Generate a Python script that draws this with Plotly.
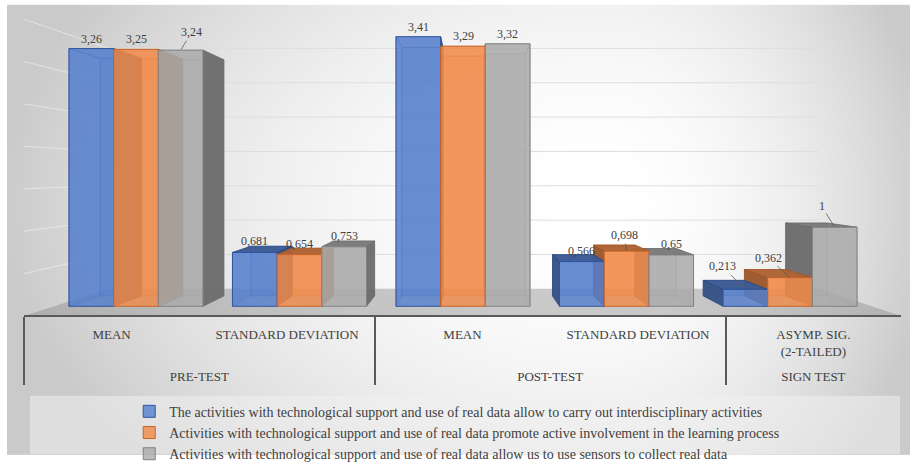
import numpy as np
import plotly.graph_objects as go

# ---------------- data ----------------
measures = ["MEAN", "STANDARD DEVIATION", "MEAN", "STANDARD DEVIATION", "ASYMP. SIG.<br>(2-TAILED)"]
phases = ["PRE-TEST", "PRE-TEST", "POST-TEST", "POST-TEST", "SIGN TEST"]

series_names = [
    "The activities with technological support and use of real data allow to carry out interdisciplinary activities",
    "Activities with technological support and use of real data promote active involvement in the learning process",
    "Activities with technological support and use of real data allow us to use sensors to collect real data",
]
interdisciplinary = [3.26, 0.681, 3.41, 0.566, 0.213]
involvement = [3.25, 0.654, 3.29, 0.698, 0.362]
sensors = [3.24, 0.753, 3.32, 0.65, 1]

wall_ticks = [0.5, 1.0, 1.5, 2.0, 2.5, 3.0, 3.5]

# ---------------- styling / geometry ----------------
W, H = 910, 470
FONT = "Liberation Serif"
TEXT = "#404040"

front_rgb = [(84, 126, 204), (240, 137, 72), (170, 170, 170)]
edge_rgb = [(47, 85, 160), (200, 100, 40), (130, 130, 130)]

# pixel layout of the front plane: group index -> px, value -> px
X0_PX, X_UNIT_PX = 136.0, 163.5
V0_PX, V_UNIT_PX = 315.0, 81.3
x_range = [-X0_PX / X_UNIT_PX, (W - X0_PX) / X_UNIT_PX]
y_range = [-(H - V0_PX) / V_UNIT_PX, V0_PX / V_UNIT_PX]


def px_x(X):
    return X0_PX + X * X_UNIT_PX


def px_y(V):
    return V0_PX - V * V_UNIT_PX


def dx(px):
    return (px - X0_PX) / X_UNIT_PX


def dv(py):
    return (V0_PX - py) / V_UNIT_PX


# perspective: vanishing point and depth scale factors
VPX, VPV = dx(470.0), dv(178.0)
S_FLOOR_FRONT = 1.073
S_BAR_BACK = 0.922
S_WALL = 0.869

BARGAP = 0.18
n_series = 3
bar_w = (1 - BARGAP) / n_series


def proj(X, V, s):
    return VPX + s * (X - VPX), VPV + s * (V - VPV)


def rgba(c, a):
    return f"rgba({c[0]},{c[1]},{c[2]},{a})"


def shade(c, f):
    return tuple(int(round(v * f)) for v in c)


fig = go.Figure()

# ---------------- background gradient ----------------
nx, ny = 60, 40
gx0, gx1, gy0, gy1 = 7, 910, 5, 468
cx = gx0 + (np.arange(nx) + 0.5) * (gx1 - gx0) / nx
cy = gy0 + (np.arange(ny) + 0.5) * (gy1 - gy0) / ny
PX, PY = np.meshgrid(cx, cy)
ddx = np.where(PX < 600, (PX - 600) / 600.0, (PX - 600) / 330.0)
ddy = (PY - 210) / 400.0
r2 = np.clip(ddx ** 2 + ddy ** 2, 0, 1)
shade_z = 255 - 53 * r2
fig.add_trace(go.Heatmap(
    x=dx(cx), y=dv(cy), z=shade_z, zmin=190, zmax=255, zsmooth="best",
    colorscale=[[0, "rgb(190,190,190)"], [1, "rgb(255,255,255)"]],
    showscale=False, hoverinfo="skip",
))

# ---------------- floor ----------------
fl = [proj(-0.5, 0, S_FLOOR_FRONT), proj(4.5, 0, S_FLOOR_FRONT),
      proj(4.5, 0, S_WALL), proj(-0.5, 0, S_WALL), proj(-0.5, 0, S_FLOOR_FRONT)]
fig.add_trace(go.Scatter(
    x=[p[0] for p in fl], y=[p[1] for p in fl], mode="lines", fill="toself",
    fillcolor="rgba(140,140,140,0.45)", line=dict(width=0), hoverinfo="skip", showlegend=False,
))

# ---------------- wall gridlines ----------------
gxs, gys, lxs, lys = [], [], [], []
for v in wall_ticks:
    a, b = proj(-0.5, v, S_WALL), proj(4.5, v, S_WALL)
    gxs += [a[0], b[0], None]
    gys += [a[1], b[1], None]
    c = proj(-0.5, v, S_FLOOR_FRONT)
    lxs += [c[0], a[0], None]
    lys += [c[1], a[1], None]
fig.add_trace(go.Scatter(x=gxs, y=gys, mode="lines", line=dict(color="rgb(222,222,222)", width=1),
                         hoverinfo="skip", showlegend=False))
fig.add_trace(go.Scatter(x=lxs, y=lys, mode="lines", line=dict(color="rgba(255,255,255,0.45)", width=1),
                         hoverinfo="skip", showlegend=False))

# ---------------- 3-D bar bodies (drawn back to front) ----------------
all_series = [interdisciplinary, involvement, sensors]
bars = []
for k, vals in enumerate(all_series):
    for g, v in enumerate(vals):
        x0 = g - (1 - BARGAP) / 2 + k * bar_w
        bars.append((k, g, x0, x0 + bar_w, v))
bars.sort(key=lambda b: -abs((b[2] + b[3]) / 2 - VPX))


def face_trace(pts, fill, line, width):
    xs = [p[0] for p in pts] + [pts[0][0]]
    ys = [p[1] for p in pts] + [pts[0][1]]
    return go.Scatter(x=xs, y=ys, mode="lines", fill="toself", fillcolor=fill,
                      line=dict(color=line, width=width), hoverinfo="skip", showlegend=False)


for k, g, x0, x1, v in bars:
    base = front_rgb[k]
    edge = edge_rgb[k]
    F = {"bl": (x0, 0), "br": (x1, 0), "tr": (x1, v), "tl": (x0, v)}
    B = {key: proj(p[0], p[1], S_BAR_BACK) for key, p in F.items()}
    faces = {
        "back": [B["bl"], B["br"], B["tr"], B["tl"]],
        "left": [F["bl"], B["bl"], B["tl"], F["tl"]],
        "right": [F["br"], B["br"], B["tr"], F["tr"]],
        "top": [F["tl"], F["tr"], B["tr"], B["tl"]],
    }
    visible = {
        "left": x0 > VPX,
        "right": x1 < VPX,
        "top": v < VPV,
    }
    fig.add_trace(face_trace(faces["back"], rgba(base, 0.45), rgba(edge, 0.55), 0.7))
    for name in ("left", "right", "top"):
        if not visible[name]:
            fig.add_trace(face_trace(faces[name], rgba(base, 0.3), rgba(edge, 0.5), 0.7))
    for name in ("left", "right", "top"):
        if visible[name]:
            f = 0.64 if name != "top" else 0.72
            fig.add_trace(face_trace(faces[name], rgba(shade(base, f), 0.96),
                                     rgba(shade(edge, 0.8), 0.9), 0.8))

# ---------------- front faces as bars ----------------
for k, vals in enumerate(all_series):
    fig.add_trace(go.Bar(
        x=list(range(len(vals))), y=vals, name=series_names[k],
        marker=dict(color=rgba(front_rgb[k], 0.8), line=dict(color=rgba(edge_rgb[k], 1), width=1)),
        xaxis="x2", yaxis="y2", hoverinfo="skip",
    ))

# ---------------- multi-level category axis ----------------
# a thin spacer line under the inner labels leaves room above the outer row
inner_labels = [m + "<br><span style='font-size:3px'>\u00a0</span>" if "<br>" in m else m
                for m in measures]
fig.add_trace(go.Scatter(
    x=[phases, inner_labels], y=[0] * len(measures), mode="markers",
    marker=dict(opacity=0, size=1), xaxis="x3", yaxis="y",
    hoverinfo="skip", showlegend=False,
))

floor_l = px_x(proj(-0.5, 0, S_FLOOR_FRONT)[0])
floor_r = px_x(proj(4.5, 0, S_FLOOR_FRONT)[0])
floor_y = px_y(proj(-0.5, 0, S_FLOOR_FRONT)[1])

# ---------------- value labels ----------------
# (group, series) -> pixel offset of labels that sit on a leader line
leader = {(0, 2): (11, -18), (3, 1): (-2, -16), (4, 0): (-23, -23), (4, 1): (-22, -20), (4, 2): (-13, -21)}
annotations = []
for k, vals in enumerate(all_series):
    for g, v in enumerate(vals):
        xc = g - (1 - BARGAP) / 2 + (k + 0.5) * bar_w
        label = f"{v:g}".replace(".", ",")
        common = dict(x=xc, y=v, xref="x", yref="y", text=label,
                      font=dict(family=FONT, size=12, color=TEXT))
        key = (g, k)
        if key in leader:
            ax, ay = leader[key]
            annotations.append(dict(**common, showarrow=True, arrowhead=0, arrowwidth=0.8,
                                    arrowcolor="#595959", ax=ax, ay=ay, standoff=1))
        else:
            shift = 10 if v > VPV else 11
            annotations.append(dict(**common, showarrow=False, yanchor="middle", yshift=shift))

# ---------------- layout ----------------
axis_hidden = dict(visible=False, showgrid=False, zeroline=False, fixedrange=True)
fig.update_layout(
    width=W, height=H,
    margin=dict(l=0, r=0, t=0, b=0),
    paper_bgcolor="white", plot_bgcolor="rgba(0,0,0,0)",
    font=dict(family=FONT, color=TEXT),
    barmode="group", bargap=BARGAP, bargroupgap=0,
    xaxis=dict(range=x_range, **axis_hidden),
    yaxis=dict(range=y_range, **axis_hidden),
    xaxis2=dict(range=x_range, overlaying="x", anchor="y2", **axis_hidden),
    yaxis2=dict(range=y_range, overlaying="y", anchor="x2", **axis_hidden),
    xaxis3=dict(
        type="multicategory", range=[-0.5, 4.5],
        domain=[floor_l / W, floor_r / W], anchor="free", position=(H - floor_y) / H,
        showline=True, linecolor="#595959", linewidth=2,
        ticks="", ticklabelstandoff=6,
        showdividers=True, dividercolor="#595959", dividerwidth=1.5,
        showgrid=False, zeroline=False, fixedrange=True,
        tickfont=dict(family=FONT, size=13, color=TEXT),
    ),
    showlegend=True,
    legend=dict(
        x=0.142, xanchor="left", y=1 - 407 / H, yanchor="top",
        bgcolor="rgba(0,0,0,0)", font=dict(family=FONT, size=14, color=TEXT),
        traceorder="normal", tracegroupgap=0, itemclick=False, itemdoubleclick=False,
    ),
    shapes=[dict(type="rect", xref="paper", yref="paper", x0=30 / W, x1=900 / W,
                 y0=1 - 467 / H, y1=1 - 407 / H, fillcolor="rgba(240,240,240,0.55)",
                 line=dict(width=0), layer="above")],
    annotations=annotations,
)

fig.write_html("out.html")
